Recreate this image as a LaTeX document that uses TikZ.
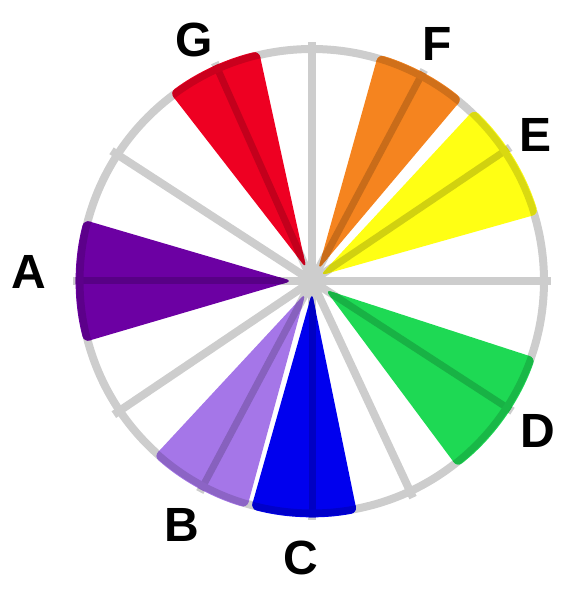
\documentclass[tikz,border=0pt]{standalone}
\usepackage{fontspec}
\setmainfont{Liberation Sans}
\definecolor{wheelgray}{RGB}{205,205,205}
\definecolor{purpleA}{RGB}{108,0,163}
\definecolor{lilacB}{RGB}{165,118,232}
\definecolor{blueC}{RGB}{0,0,238}
\definecolor{greenD}{RGB}{30,217,84}
\definecolor{yellowE}{RGB}{255,255,20}
\definecolor{orangeF}{RGB}{245,132,31}
\definecolor{redG}{RGB}{238,0,34}

\begin{document}
\begin{tikzpicture}[x=1pt, y=1pt,
	every node/.style={font=\fontsize{48}{48}\selectfont\bfseries, inner sep=0pt},
	rim/.style={line width=8pt, wheelgray}]
	\useasboundingbox (0,0) rectangle (587,594);
	\begin{scope}[shift={(312,313)}]
		% wheel and spokes
		\draw[rim] (0,0) circle (232);
		\foreach \a in {0,34,62,90,114,147,180,214,242,270,295,327}
			\draw[rim] (0,0) -- (\a:239);
		% coloured wedges: colour/from/to/middle/tip
		\foreach \c/\a/\b/\m/\t in {purpleA/165/195/180/20, lilacB/228/254/242/14,
			blueC/255/281/270/12, greenD/308/341/327/16, yellowE/16.5/46.6/34/10,
			orangeF/50.5/73.7/62/13, redG/103/127/114/14} {
			\begin{scope}
				\clip[rounded corners=6pt] (\m:\t) -- (\a:236) arc[start angle=\a, end angle=\b, radius=236] -- cycle;
				\fill[\c] (-240,-240) rectangle (240,240);
				\draw[\c!82!black, line width=7pt] (0,0) -- (\m:240);
				\draw[\c!85!black, line width=7pt] (0,0) circle (232);
			\end{scope}
		}
	\end{scope}
	% labels
	\node (labA) at (29,322) {A};
	\node (labB) at (182,69) {B};
	\node (labC) at (301,36) {C};
	\node (labD) at (538,163) {D};
	\node (labE) at (536,459) {E};
	\node (labF) at (437,550) {F};
	\node (labG) at (194,554) {G};
\end{tikzpicture}
\end{document}
